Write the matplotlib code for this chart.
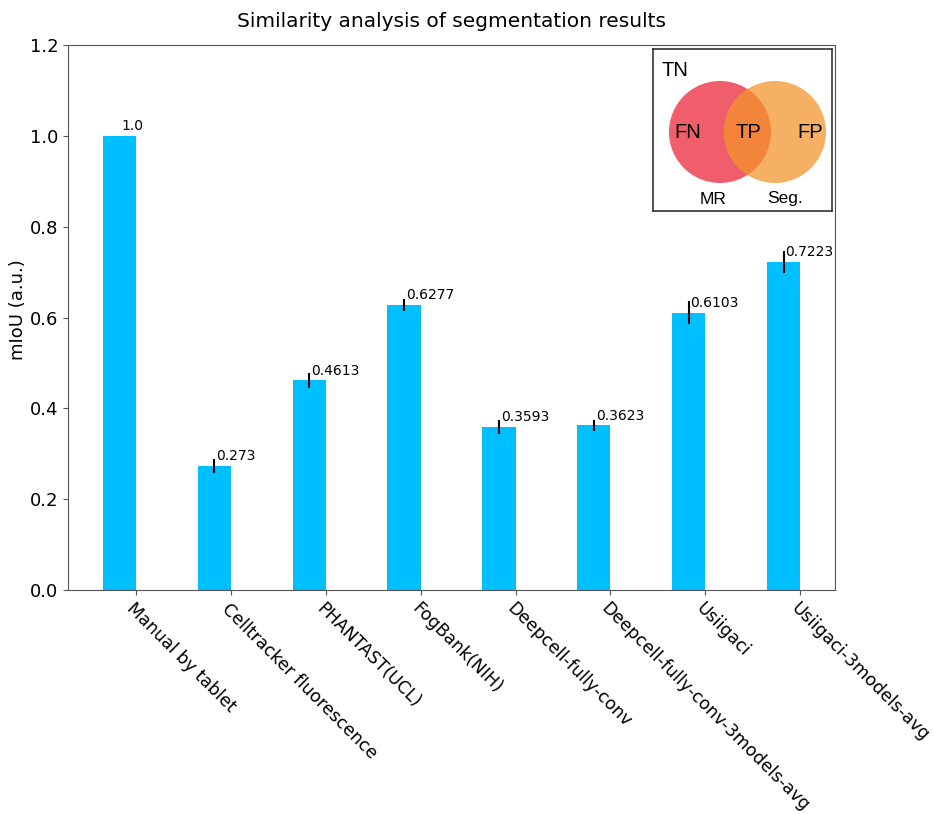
import numpy as np
import matplotlib.pyplot as plt
from matplotlib.patches import Circle

methods = ["Manual by tablet", "Celltracker fluorescence", "PHANTAST(UCL)",
           "FogBank(NIH)", "Deepcell-fully-conv", "Deepcell-fully-conv-3models-avg",
           "Usiigaci", "Usiigaci-3models-avg"]
miou = [1.0, 0.273, 0.4613, 0.6277, 0.3593, 0.3623, 0.6103, 0.7223]
miou_err = [0.0, 0.016, 0.016, 0.013, 0.016, 0.013, 0.025, 0.025]

width = 0.35
index = np.arange(len(methods))

fig = plt.figure(figsize=(9.34, 8.14), dpi=100)
ax = fig.add_axes([0.0728, 0.2752, 0.8212, 0.6695])

ax.bar(index, miou, width, color="#00BFFF", yerr=miou_err,
       error_kw=dict(ecolor="black", elinewidth=1.5, capsize=0))
for i, v in enumerate(miou):
    ax.text(i + 0.02, v + 0.006, str(v), fontsize=10, va="bottom", ha="left")

ax.set_ylim(0, 1.2)
ax.set_yticks(np.arange(0, 1.21, 0.2))
ax.tick_params(axis="y", labelsize=13)
ax.set_xticks(index + width / 2)
ax.set_xticklabels(methods, rotation=-45, ha="left", rotation_mode="anchor",
                   fontsize=12.5)
ax.set_ylabel("mIoU (a.u.)", fontsize=13)
ax.yaxis.set_label_coords(-0.053, 0.514)
ax.set_title("Similarity analysis of segmentation results", fontsize=14.5, pad=13)
for s in ax.spines.values():
    s.set_color("#555555")
ax.tick_params(color="#555555")

# Venn diagram inset explaining TP/FP/FN/TN
venn_font = ["Liberation Sans", "DejaVu Sans"]
ins = fig.add_axes([653 / 934, 1 - 211 / 814, 179 / 934, 162 / 814])
ins.set_xlim(0, 179)
ins.set_ylim(0, 162)
ins.set_xticks([])
ins.set_yticks([])
for s in ins.spines.values():
    s.set_color("#333333")
    s.set_linewidth(1.2)
red = Circle((67, 79), 51, color="#EF5E6A", lw=0)
orange = Circle((122, 79), 51, color="#F5B063", lw=0)
ins.add_patch(red)
ins.add_patch(orange)
overlap = Circle((122, 79), 51, color="#F3853A", lw=0)
ins.add_patch(overlap)
overlap.set_clip_path(red)
ins.text(9, 141, "TN", fontsize=14.5, va="center", family=venn_font)
ins.text(35, 79, "FN", fontsize=14.5, va="center", ha="center", family=venn_font)
ins.text(95, 79, "TP", fontsize=14.5, va="center", ha="center", family=venn_font)
ins.text(157, 79, "FP", fontsize=14.5, va="center", ha="center", family=venn_font)
ins.text(60, 12, "MR", fontsize=12.5, va="center", ha="center", family=venn_font)
ins.text(132, 12, "Seg.", fontsize=12.5, va="center", ha="center", family=venn_font)

fig.savefig("out.png", dpi=100)
